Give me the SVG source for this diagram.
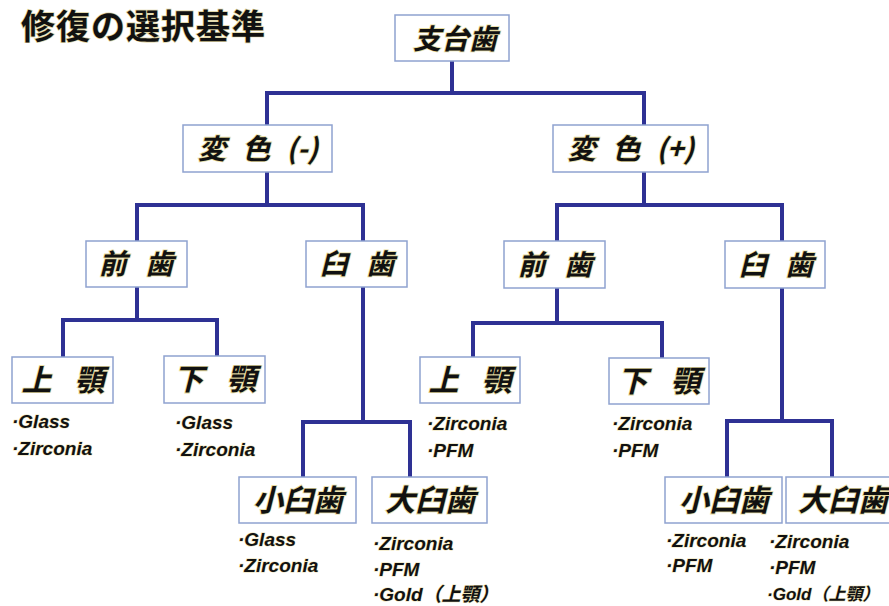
<svg xmlns="http://www.w3.org/2000/svg" width="889" height="606" viewBox="0 0 889 606">
<style>
.bg{fill:#ffffff}
.box{fill:#ffffff;stroke:#8fa2d0;stroke-width:1.5}
.lbl{font-family:"Noto Sans CJK JP","Noto Sans",sans-serif;font-weight:bold;font-style:italic;font-size:28px;fill:#111;text-anchor:middle;stroke:#e8dca0;stroke-width:1.6;paint-order:stroke}
.big{font-size:30px}
.title{font-family:"Noto Sans CJK JP",sans-serif;font-weight:bold;font-size:34px;fill:#111;stroke:#e0d4a0;stroke-width:1.4;paint-order:stroke;letter-spacing:1px}
.lst{font-family:"Liberation Sans","Noto Sans CJK JP",sans-serif;font-weight:bold;font-style:italic;font-size:19px;fill:#111;stroke:#eee2b0;stroke-width:1;paint-order:stroke}
.con{fill:none;stroke:#2e3194;stroke-width:4;stroke-linejoin:miter;stroke-linecap:square}
</style>
<rect class="bg" x="0" y="0" width="889" height="606"/>
<text class="title" x="21" y="39">修復の選択基準</text>

<g id="connectors">
<path class="con" d="M452,61 V93 M267,93 H644 M267,93 V125 M644,93 V125"/>
<path class="con" d="M267,172 V205 M137,205 H363 M137,205 V241 M363,205 V241"/>
<path class="con" d="M644,172 V205 M557,205 H782 M557,205 V241 M782,205 V241"/>
<path class="con" d="M137,287 V320 M63,320 H217 M63,320 V357 M217,320 V356"/>
<path class="con" d="M363,287 V422 M303,422 H410 M303,422 V477 M410,422 V477"/>
<path class="con" d="M557,288 V323 M473,323 H662 M473,323 V357 M662,323 V358"/>
<path class="con" d="M782,288 V421 M727,421 H832 M727,421 V477 M832,421 V477"/>
</g>

<g id="n-root"><rect class="box" x="395" y="15" width="114" height="46"/><text class="lbl" x="455" y="49">支台歯</text></g>
<g id="n-henshoku-minus"><rect class="box" x="183" y="125" width="149" height="47"/><text class="lbl" x="258" y="159" xml:space="preserve" word-spacing="10">変 色 (-)</text></g>
<g id="n-henshoku-plus"><rect class="box" x="553" y="125" width="155" height="47"/><text class="lbl" x="631" y="159" xml:space="preserve" word-spacing="10">変 色 (+)</text></g>

<g id="n-zenshi-l"><rect class="box" x="86" y="241" width="101" height="46"/><text class="lbl" x="136" y="274" word-spacing="12">前 歯</text></g>
<g id="n-kyushi-l"><rect class="box" x="306" y="241" width="101" height="46"/><text class="lbl" x="357" y="274" word-spacing="12">臼 歯</text></g>
<g id="n-zenshi-r"><rect class="box" x="504" y="241" width="101" height="47"/><text class="lbl" x="555" y="275" word-spacing="12">前 歯</text></g>
<g id="n-kyushi-r"><rect class="box" x="725" y="241" width="100" height="47"/><text class="lbl" x="776" y="275" word-spacing="12">臼 歯</text></g>

<g id="n-jogaku-l"><rect class="box" x="12" y="357" width="101" height="46"/><text class="lbl big" x="63" y="391" word-spacing="16">上 顎</text>
<text class="lst" x="12" y="428">·Glass</text><text class="lst" x="12" y="455">·Zirconia</text></g>
<g id="n-kagaku-l"><rect class="box" x="164" y="356" width="101" height="47"/><text class="lbl big" x="215" y="390" word-spacing="16">下 顎</text>
<text class="lst" x="175" y="429">·Glass</text><text class="lst" x="175" y="456">·Zirconia</text></g>

<g id="n-jogaku-r"><rect class="box" x="420" y="357" width="100" height="46"/><text class="lbl big" x="470" y="391" word-spacing="16">上 顎</text>
<text class="lst" x="427" y="430">·Zirconia</text><text class="lst" x="427" y="457">·PFM</text></g>
<g id="n-kagaku-r"><rect class="box" x="609" y="358" width="100" height="46"/><text class="lbl big" x="659" y="392" word-spacing="16">下 顎</text>
<text class="lst" x="612" y="430">·Zirconia</text><text class="lst" x="612" y="457">·PFM</text></g>

<g id="n-shokyushi-l"><rect class="box" x="239" y="477" width="117" height="46"/><text class="lbl big" x="298" y="511">小臼歯</text>
<text class="lst" x="238" y="546">·Glass</text><text class="lst" x="238" y="572">·Zirconia</text></g>
<g id="n-daikyushi-l"><rect class="box" x="372" y="477" width="115" height="46"/><text class="lbl big" x="430" y="511">大臼歯</text>
<text class="lst" x="373" y="550">·Zirconia</text><text class="lst" x="373" y="576">·PFM</text><text class="lst" x="373" y="601">·Gold（上顎）</text></g>

<g id="n-shokyushi-r"><rect class="box" x="665" y="477" width="117" height="46"/><text class="lbl big" x="724" y="511">小臼歯</text>
<text class="lst" x="666" y="547">·Zirconia</text><text class="lst" x="666" y="572">·PFM</text></g>
<g id="n-daikyushi-r"><rect class="box" x="786" y="477" width="118" height="46"/><text class="lbl big" x="843" y="511">大臼歯</text>
<text class="lst" x="769" y="548">·Zirconia</text><text class="lst" x="769" y="574">·PFM</text><text class="lst" x="767" y="600" style="font-size:17px">·Gold（上顎）</text></g>
</svg>
